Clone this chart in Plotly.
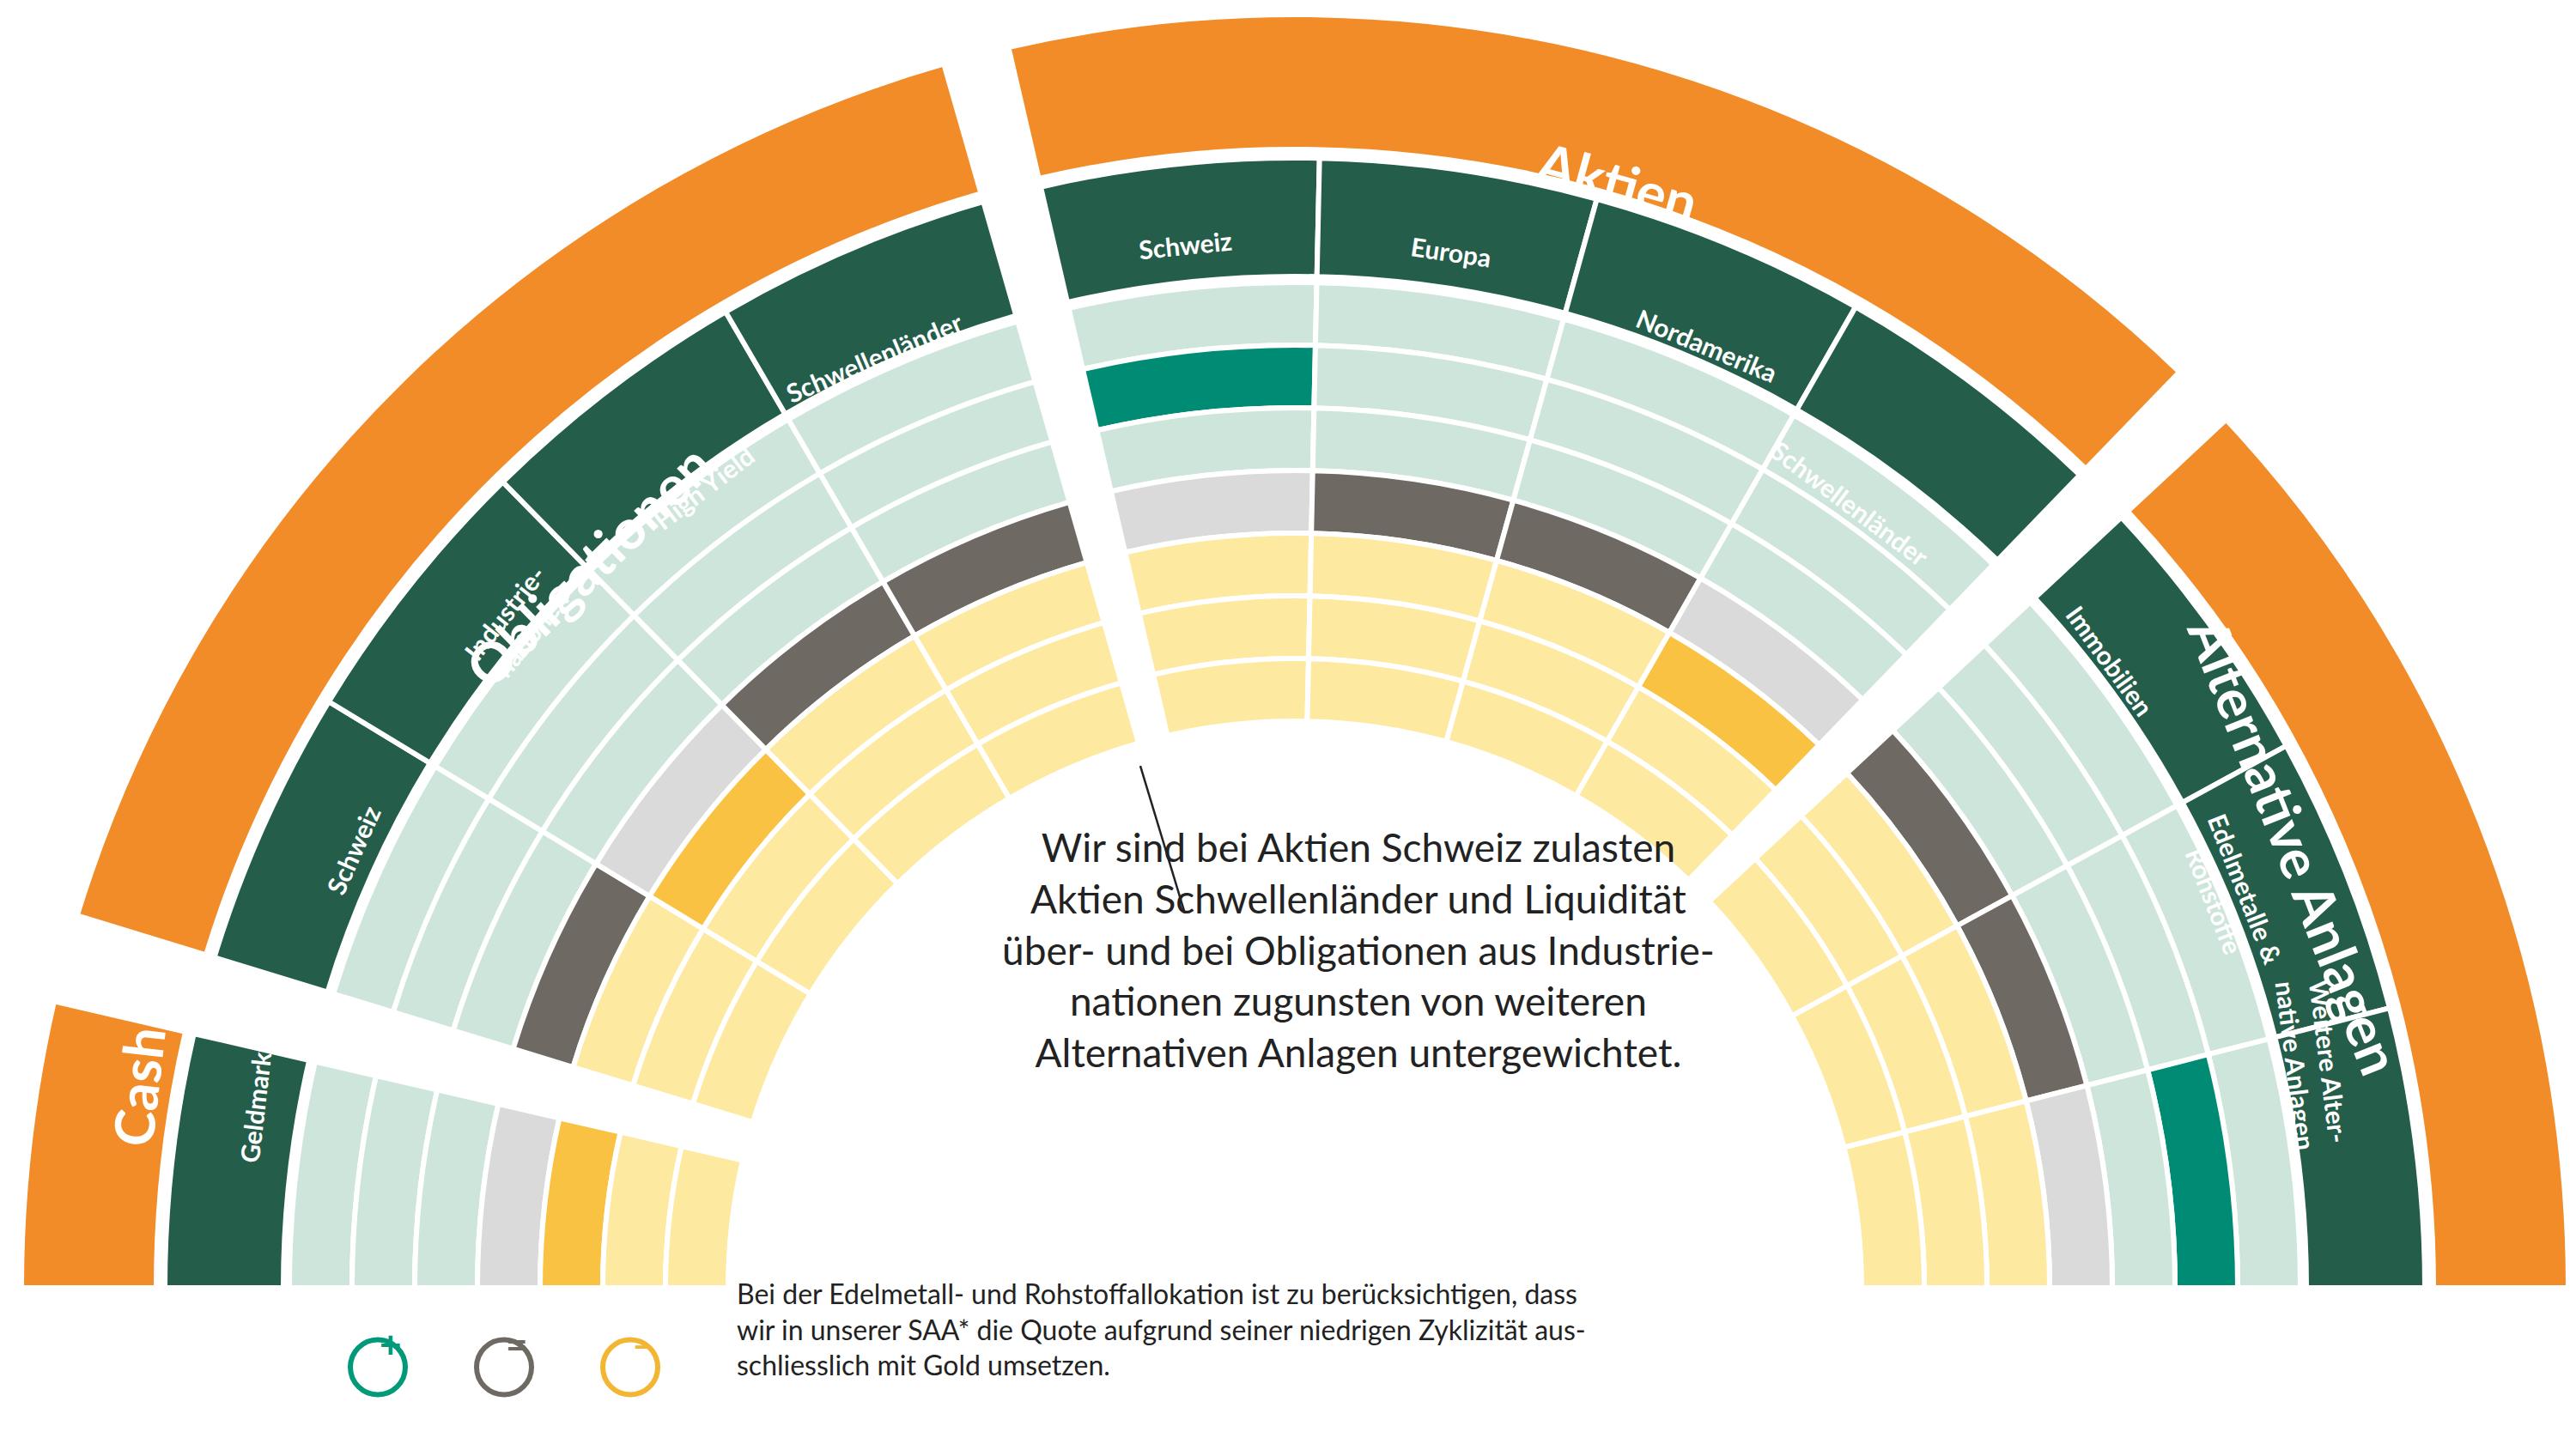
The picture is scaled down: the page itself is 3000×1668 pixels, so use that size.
import math
import plotly.graph_objects as go

# data
groups = ["Cash", "Obligationen", "Aktien", "Alternative Anlagen"]
group_spans = [(167, 180), (106, 163), (46, 103), (0, 43)]
subcats = [
    ["Geldmarkt"],
    ["Schweiz", "Industrie-<br>nationen", "High Yield", "Schwellenländer"],
    ["Schweiz", "Europa", "Nordamerika", "Schwellenländer"],
    ["Immobilien", "Edelmetalle &<br>Rohstoffe", "Weitere Alter-<br>native Anlagen"],
]
positions = [
    [-1],
    [0, -1, 0, 0],
    [2, 0, 0, -1],
    [0, 0, 2],
]
levels = [3, 2, 1, 0, -1, -2, -3]

W, H = 3000, 1668
R_PX = 1490
CX, CY = 1500, 176  # centre in px from left / bottom
RING_IN, RING_W = 660, 73
SUB_IN, SUB_OUT = 1178, 1316
GRP_IN, GRP_OUT = 1326, 1483

ORANGE = "#F28C28"
DARK = "#245E4A"
colors_light = {1: "#CDE5DA", 0: "#DADADA", -1: "#FDE9A0"}
colors_hi = {1: "#008C74", 0: "#6E6A63", -1: "#F9C242"}
FONT = "Lato"


def paper(r, theta):
    t = math.radians(theta)
    return (CX + r * math.cos(t)) / W, (CY + r * math.sin(t)) / H


thetas, widths, bases, rs, cols = [], [], [], [], []
annotations = []

for g, (lo, hi) in enumerate(group_spans):
    # group band
    thetas.append((lo + hi) / 2)
    widths.append(hi - lo)
    bases.append(GRP_IN)
    rs.append(GRP_OUT - GRP_IN)
    cols.append(ORANGE)
    x, y = paper((GRP_IN + GRP_OUT) / 2, (lo + hi) / 2)
    annotations.append(dict(x=x, y=y, xref="paper", yref="paper", text="<b>%s</b>" % groups[g],
                            showarrow=False, textangle=90 - (lo + hi) / 2,
                            font=dict(family=FONT, size=64, color="white")))
    n = len(subcats[g])
    step = (hi - lo) / n
    for k in range(n):
        # first sub starts at the high angle (reading clockwise)
        th = hi - step * (k + 0.5)
        thetas.append(th)
        widths.append(step)
        bases.append(SUB_IN)
        rs.append(SUB_OUT - SUB_IN)
        cols.append(DARK)
        x, y = paper((SUB_IN + SUB_OUT) / 2, th)
        annotations.append(dict(x=x, y=y, xref="paper", yref="paper", text="<b>%s</b>" % subcats[g][k],
                                showarrow=False, textangle=90 - th,
                                font=dict(family=FONT, size=30, color="white")))
        pos = positions[g][k]
        for i, lv in enumerate(levels):
            sign = (lv > 0) - (lv < 0)
            thetas.append(th)
            widths.append(step)
            bases.append(RING_IN + RING_W * (6 - i))
            rs.append(RING_W)
            cols.append(colors_hi[sign] if lv == pos else colors_light[sign])

fig = go.Figure()
fig.add_trace(go.Barpolar(
    theta=thetas, r=rs, base=bases, width=widths,
    marker=dict(color=cols, line=dict(color="white", width=6)),
    hoverinfo="skip",
))

annotations.append(dict(
    x=0.5247, y=0.2524, xref="paper", yref="paper", showarrow=False, align="center",
    text="Wir sind bei Aktien Schweiz zulasten<br>Aktien Schwellenländer und Liquidität<br>"
         "über- und bei Obligationen aus Industrie-<br>nationen zugunsten von weiteren<br>"
         "Alternativen Anlagen untergewichtet.",
    font=dict(family=FONT, size=46, color="#222222"),
))
annotations.append(dict(
    x=0.2825, y=0.039, xref="paper", yref="paper", showarrow=False, align="left", xanchor="left",
    text="Bei der Edelmetall- und Rohstoffallokation ist zu berücksichtigen, dass<br>"
         "wir in unserer SAA* die Quote aufgrund seiner niedrigen Zyklizität aus-<br>"
         "schliesslich mit Gold umsetzen.",
    font=dict(family=FONT, size=32, color="#222222"),
))

shapes = [dict(type="line", xref="paper", yref="paper", x0=0.44, y0=0.47, x1=0.4573, y1=0.367,
               line=dict(color="#222222", width=2.5))]
legend_items = [("+", "#00997A", 0.144), ("=", "#6E6A63", 0.193), ("–", "#F2B632", 0.242)]
for sym, c, lx in legend_items:
    shapes.append(dict(type="circle", xref="paper", yref="paper", xsizemode="pixel", ysizemode="pixel",
                       xanchor=lx, yanchor=0.05, x0=-32, x1=32, y0=-32, y1=32,
                       line=dict(color=c, width=6)))
    annotations.append(dict(x=lx, y=0.05, xref="paper", yref="paper", showarrow=False,
                            text="<b>%s</b>" % sym, font=dict(family=FONT, size=44, color=c)))

fig.update_layout(
    width=W, height=H,
    margin=dict(l=0, r=0, t=0, b=0),
    paper_bgcolor="white",
    showlegend=False,
    polar=dict(
        domain=dict(x=[0, 1], y=[CY / H, (CY + R_PX) / H]),
        sector=[0, 180],
        bgcolor="white",
        radialaxis=dict(range=[0, R_PX], visible=False),
        angularaxis=dict(visible=False, direction="counterclockwise", rotation=0),
    ),
    annotations=annotations,
    shapes=shapes,
)

fig.write_html("out.html")
